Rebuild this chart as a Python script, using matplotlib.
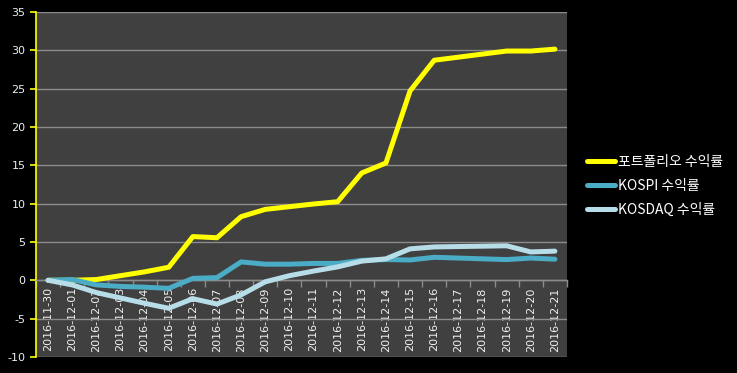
import matplotlib.pyplot as plt
import numpy as np

plt.rcParams['axes.unicode_minus'] = False

#=====================================================================
#data
#=====================================================================
dates = ['2016-11-30', '2016-12-01', '2016-12-02', '2016-12-03', '2016-12-04',
         '2016-12-05', '2016-12-06', '2016-12-07', '2016-12-08', '2016-12-09',
         '2016-12-10', '2016-12-11', '2016-12-12', '2016-12-13', '2016-12-14',
         '2016-12-15', '2016-12-16', '2016-12-17', '2016-12-18', '2016-12-19',
         '2016-12-20', '2016-12-21']

portfolio = [0.0, 0.0, 0.1, 0.6, 1.1, 1.7, 5.7, 5.55, 8.3, 9.25,
             9.6, 9.95, 10.25, 14.0, 15.3, 24.7, 28.7, 29.1, 29.5, 29.9,
             29.9, 30.15]
kospi = [0.0, 0.1, -0.6, -0.8, -0.9, -1.05, 0.25, 0.35, 2.4, 2.1,
         2.1, 2.2, 2.2, 2.6, 2.7, 2.65, 3.0, 2.9, 2.8, 2.7,
         2.9, 2.75]
kosdaq = [0.0, -0.6, -1.6, -2.3, -3.0, -3.65, -2.4, -3.1, -1.9, -0.2,
          0.6, 1.2, 1.75, 2.5, 2.8, 4.1, 4.35, 4.4, 4.45, 4.5,
          3.7, 3.8]

labels = ['포트폴리오 수익률', 'KOSPI 수익률', 'KOSDAQ 수익률']
colors = ['#FFFF00', '#4BACC6', '#B7DEE8']

#=====================================================================
#plot
#=====================================================================
fig = plt.figure(figsize=(7.37, 3.73), dpi=100, facecolor='black')
ax = fig.add_axes([0.0488, 0.043, 0.7205, 0.925])
ax.set_facecolor('#404040')

x = np.arange(len(dates))
for series, lab, c in zip([portfolio, kospi, kosdaq], labels, colors):
    ax.plot(x, series, color=c, lw=3.6, label=lab, solid_capstyle='round', zorder=3)

ax.set_xlim(-0.5, len(dates) - 0.5)
ax.set_ylim(-10, 35)
ax.set_yticks(np.arange(-10, 36, 5))
ax.yaxis.grid(True, color='#8c8c8c', lw=1)
ax.set_axisbelow(True)

#spines
for s in ['top', 'right']:
    ax.spines[s].set_visible(False)
ax.spines['left'].set_color('#FFFF00')
ax.spines['left'].set_linewidth(1.2)
ax.spines['bottom'].set_position(('data', 0))
ax.spines['bottom'].set_color('#8c8c8c')
ax.spines['bottom'].set_linewidth(1)

ax.tick_params(axis='y', colors='#FFFF00', length=4, width=1.2, labelcolor='#f0f0f0', labelsize=8)

#x ticks: labels at categories, marks at category boundaries
ax.set_xticks(x)
ax.set_xticklabels(dates, rotation=90, va='top', ha='center')
ax.tick_params(axis='x', which='major', length=0, pad=5, labelcolor='#f0f0f0', labelsize=8)
ax.set_xticks(np.arange(-0.5, len(dates)), minor=True)
ax.tick_params(axis='x', which='minor', length=5, color='#8c8c8c', width=1)

leg = ax.legend(loc='center left', bbox_to_anchor=(1.0145, 0.496), frameon=False,
                handlelength=2.0, handletextpad=0.2, labelspacing=0.7,
                prop={'family': ['Noto Sans CJK KR', 'DejaVu Sans'], 'size': 10})
for t in leg.get_texts():
    t.set_color('white')

fig.savefig('out.png', dpi=100, facecolor='black')
